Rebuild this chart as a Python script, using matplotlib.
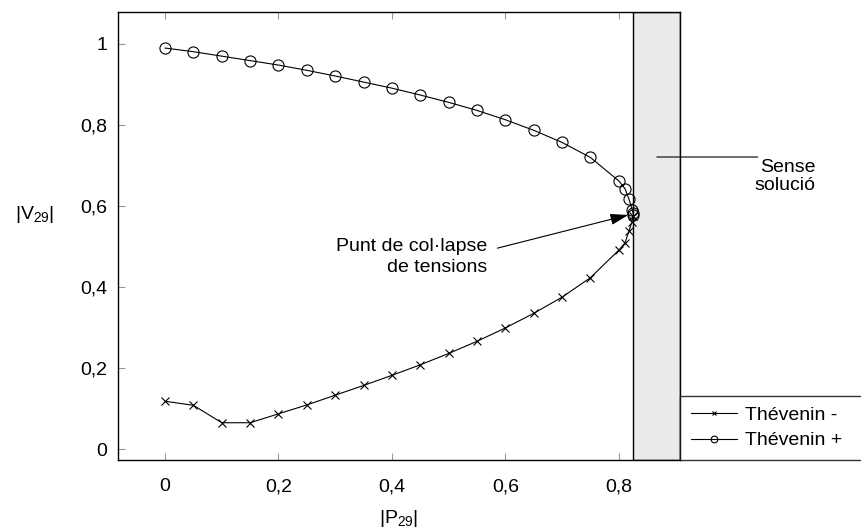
import matplotlib
matplotlib.use("Agg")
import matplotlib.pyplot as plt
from matplotlib.ticker import FuncFormatter

plt.rcParams['font.family'] = ['Liberation Sans', 'DejaVu Sans']
plt.rcParams['mathtext.default'] = 'regular'

# |P29| values
p_minus = [0.0, 0.05, 0.1, 0.15, 0.2, 0.25, 0.3, 0.35, 0.4, 0.45, 0.5, 0.55,
           0.6, 0.65, 0.7, 0.75, 0.8, 0.811, 0.818, 0.823, 0.825]
v_minus = [0.118, 0.108, 0.065, 0.065, 0.087, 0.109, 0.133, 0.157, 0.182, 0.208,
           0.236, 0.266, 0.299, 0.335, 0.375, 0.423, 0.491, 0.509, 0.538, 0.56, 0.575]

p_plus = [0.0, 0.05, 0.1, 0.15, 0.2, 0.25, 0.3, 0.35, 0.4, 0.45, 0.5, 0.55,
          0.6, 0.65, 0.7, 0.75, 0.8, 0.811, 0.818, 0.824, 0.825, 0.826]
v_plus = [0.99, 0.981, 0.97, 0.959, 0.948, 0.935, 0.921, 0.906, 0.891, 0.874,
          0.856, 0.836, 0.813, 0.787, 0.757, 0.72, 0.662, 0.643, 0.617, 0.59, 0.583, 0.578]

p_limit = 0.8256
x_limits = (-0.083, 0.908)
y_limits = (-0.027, 1.079)
x_ticks = [0, 0.2, 0.4, 0.6, 0.8]
y_ticks = [0, 0.2, 0.4, 0.6, 0.8, 1.0]

FS = 14

fig = plt.figure(figsize=(8.61, 5.28), dpi=100)
ax = fig.add_axes([118 / 861, 1 - 460 / 528, (680 - 118) / 861, (460 - 12) / 528])

ax.axvspan(p_limit, x_limits[1], facecolor='#ebebeb', edgecolor='black',
           linewidth=1.0, zorder=2)

ax.plot(p_minus, v_minus, color='black', lw=0.8, marker='x', ms=5.5, mew=0.8,
        label='Thévenin -', zorder=5)
ax.plot(p_plus, v_plus, color='black', lw=0.8, marker='o', ms=8, mfc='none',
        mew=0.8, label='Thévenin +', zorder=5)

ax.set_xlim(*x_limits)
ax.set_ylim(*y_limits)
ax.set_xticks(x_ticks)
ax.set_yticks(y_ticks)


def comma(v, pos):
    s = f"{v:g}"
    return s.replace('.', ',')


ax.xaxis.set_major_formatter(FuncFormatter(comma))
ax.yaxis.set_major_formatter(FuncFormatter(comma))
ax.tick_params(direction='in', length=5, width=0.8, color='#999999',
               labelsize=FS, top=True, right=True)
ax.tick_params(axis='x', pad=13)
ax.tick_params(axis='y', pad=8)
for s in ax.spines.values():
    s.set_linewidth(1.0)
    s.set_zorder(4)

ax.set_xlabel('|P$_{29}$|', fontsize=FS)
ax.set_ylabel('|V$_{29}$|', fontsize=FS, rotation=0, va='center', ha='center')
ax.xaxis.set_label_coords(0.5, -0.108)
ax.yaxis.set_label_coords(-0.148, 0.547)

ax.text(0.568, 0.475, 'Punt de col·lapse\nde tensions', ha='right', va='center',
        fontsize=FS, multialignment='right', linespacing=1.3)
ax.annotate('', xy=(0.817, 0.578), xytext=(0.586, 0.496),
            arrowprops=dict(arrowstyle='-|>,head_length=0.65,head_width=0.2',
                            color='black', lw=0.8, mutation_scale=17,
                            shrinkA=0, shrinkB=0),
            zorder=6)

ax.annotate('', xy=(0.867, 0.721), xytext=(1.045, 0.721),
            arrowprops=dict(arrowstyle='-', color='black', lw=0.8,
                            shrinkA=0, shrinkB=0),
            annotation_clip=False, zorder=6)
ax.text(1.04, 0.716, 'Sense\nsolució', ha='left', va='top', fontsize=FS,
        multialignment='right', linespacing=1.1, clip_on=False)

leg = ax.legend(loc='lower left', bbox_to_anchor=(1.0, 0.0, 0.4, 0.17),
                mode='expand', fontsize=FS,
                frameon=True, fancybox=False, edgecolor='black',
                handlelength=2.4, handletextpad=0.4, borderpad=0.55,
                labelspacing=0.4, borderaxespad=0, markerscale=0.6)
leg.get_frame().set_linewidth(1.0)
leg.set_zorder(7)

fig.savefig('out.png', dpi=100)
